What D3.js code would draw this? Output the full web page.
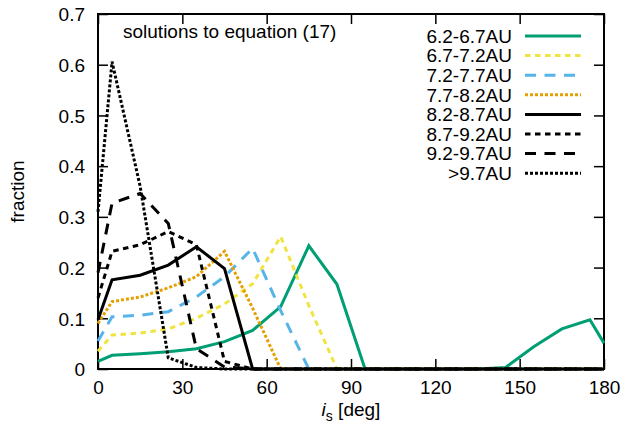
<!DOCTYPE html>
<html>
<head>
<meta charset="utf-8">
<script src="https://cdn.jsdelivr.net/npm/d3@7"></script>
<style>
  html, body { margin: 0; padding: 0; background: #fff; }
  svg { display: block; font-family: "Liberation Sans", Arial, sans-serif; }
</style>
</head>
<body>
<svg id="chart" width="629" height="432"></svg>
<script>
// ---- data ----
const incl = [0, 5, 15, 25, 35, 45, 55, 65, 75, 85, 95, 105, 115, 125, 135, 145, 155, 165, 175, 180];
const seriesNames = ["6.2-6.7AU", "6.7-7.2AU", "7.2-7.7AU", "7.7-8.2AU", "8.2-8.7AU", "8.7-9.2AU", "9.2-9.7AU", ">9.7AU"];
const s62 = [0.015, 0.027, 0.030, 0.034, 0.040, 0.054, 0.076, 0.123, 0.243, 0.167, 0, 0, 0, 0, 0, 0.003, 0.044, 0.079, 0.097, 0.051];
const s67 = [0.035, 0.067, 0.071, 0.079, 0.100, 0.128, 0.168, 0.261, 0.125, 0, 0, 0, 0, 0, 0, 0, 0, 0, 0, 0];
const s72 = [0.055, 0.103, 0.106, 0.113, 0.142, 0.182, 0.238, 0.115, 0, 0, 0, 0, 0, 0, 0, 0, 0, 0, 0, 0];
const s77 = [0.090, 0.133, 0.142, 0.160, 0.182, 0.232, 0.120, 0, 0, 0, 0, 0, 0, 0, 0, 0, 0, 0, 0, 0];
const s82 = [0.097, 0.176, 0.185, 0.205, 0.241, 0.198, 0, 0, 0, 0, 0, 0, 0, 0, 0, 0, 0, 0, 0, 0];
const s87 = [0.140, 0.232, 0.245, 0.271, 0.245, 0.015, 0, 0, 0, 0, 0, 0, 0, 0, 0, 0, 0, 0, 0, 0];
const s92 = [0.190, 0.327, 0.346, 0.287, 0.040, 0.004, 0, 0, 0, 0, 0, 0, 0, 0, 0, 0, 0, 0, 0, 0];
const s97 = [0.310, 0.606, 0.360, 0.022, 0.003, 0, 0, 0, 0, 0, 0, 0, 0, 0, 0, 0, 0, 0, 0, 0];
const seriesValues = [s62, s67, s72, s77, s82, s87, s92, s97];
const xTicks = [0, 30, 60, 90, 120, 150, 180];
const yTicks = [0, 0.1, 0.2, 0.3, 0.4, 0.5, 0.6, 0.7];
const titleText = "solutions to equation (17)";

// ---- styles ----
const colors = ["#009e73", "#f0e442", "#56b4e9", "#e69f00", "#000000", "#000000", "#000000", "#000000"];
const dashes = [null, "5.5,4.5", "11,8.5", "3,2", null, "5.5,4.5", "11,8.5", "3,2"];

const W = 629, H = 432;
const m = { left: 98, right: 25, top: 14, bottom: 63 };
const svg = d3.select("#chart");
const x = d3.scaleLinear().domain([0, 180]).range([m.left, W - m.right]);
const y = d3.scaleLinear().domain([0, 0.7]).range([H - m.bottom, m.top]);
const FS = 19;
const tickLen = 10;

// axes (inward ticks, mirrored)
const gB = svg.append("g").attr("transform", `translate(0,${y(0)})`)
  .call(d3.axisBottom(x).tickValues(xTicks).tickSize(-tickLen).tickPadding(12).tickFormat(d3.format("d")));
const gT = svg.append("g").attr("transform", `translate(0,${y(0.7)})`)
  .call(d3.axisTop(x).tickValues(xTicks).tickSize(-tickLen).tickFormat(""));
const gL = svg.append("g").attr("transform", `translate(${x(0)},0)`)
  .call(d3.axisLeft(y).tickValues(yTicks).tickSize(-tickLen).tickPadding(13).tickFormat(d => d === 0 ? "0" : d3.format(".1f")(d)));
const gR = svg.append("g").attr("transform", `translate(${x(180)},0)`)
  .call(d3.axisRight(y).tickValues(yTicks).tickSize(-tickLen).tickFormat(""));
[gB, gT, gL, gR].forEach(g => {
  g.select(".domain").remove();
  g.selectAll(".tick line").attr("stroke", "#000").attr("stroke-width", 1.5);
  g.selectAll("text").attr("font-size", FS).attr("fill", "#000").attr("font-family", "Liberation Sans, Arial, sans-serif");
});
gB.selectAll("text").attr("dy", "0.71em");
gL.selectAll("text").attr("dy", "0.36em");

// frame
svg.append("rect")
  .attr("x", x(0)).attr("y", y(0.7))
  .attr("width", x(180) - x(0)).attr("height", y(0) - y(0.7))
  .attr("fill", "none").attr("stroke", "#000").attr("stroke-width", 2);

// lines
const line = d3.line().x((d, i) => x(incl[i])).y(d => y(d));
seriesValues.forEach((vals, k) => {
  svg.append("path")
    .datum(vals)
    .attr("d", line)
    .attr("fill", "none")
    .attr("stroke", colors[k])
    .attr("stroke-width", 3)
    .attr("stroke-linejoin", "miter")
    .attr("stroke-linecap", "butt")
    .attr("stroke-dasharray", dashes[k]);
});

// title text
svg.append("text")
  .attr("x", 123).attr("y", 38)
  .attr("font-size", FS).attr("fill", "#000")
  .text(titleText);

// legend
const lg = svg.append("g");
seriesNames.forEach((name, k) => {
  const yy = 36 + k * 19.6;
  lg.append("text")
    .attr("x", 512).attr("y", yy + 6.8)
    .attr("text-anchor", "end")
    .attr("font-size", FS).attr("fill", "#000")
    .text(name);
  lg.append("line")
    .attr("x1", 525).attr("x2", 581)
    .attr("y1", yy).attr("y2", yy)
    .attr("stroke", colors[k]).attr("stroke-width", 3)
    .attr("stroke-dasharray", dashes[k]);
});

// axis labels
svg.append("text")
  .attr("transform", `translate(24,${(y(0) + y(0.7)) / 2}) rotate(-90)`)
  .attr("text-anchor", "middle")
  .attr("font-size", FS).attr("fill", "#000")
  .text("fraction");

const xl = svg.append("text")
  .attr("x", (x(0) + x(180)) / 2).attr("y", 416)
  .attr("text-anchor", "middle")
  .attr("font-size", FS).attr("fill", "#000");
xl.append("tspan").attr("font-style", "italic").text("i");
xl.append("tspan").attr("font-size", 14).attr("dy", 5).text("s");
xl.append("tspan").attr("dy", -5).text(" [deg]");
</script>
</body>
</html>
